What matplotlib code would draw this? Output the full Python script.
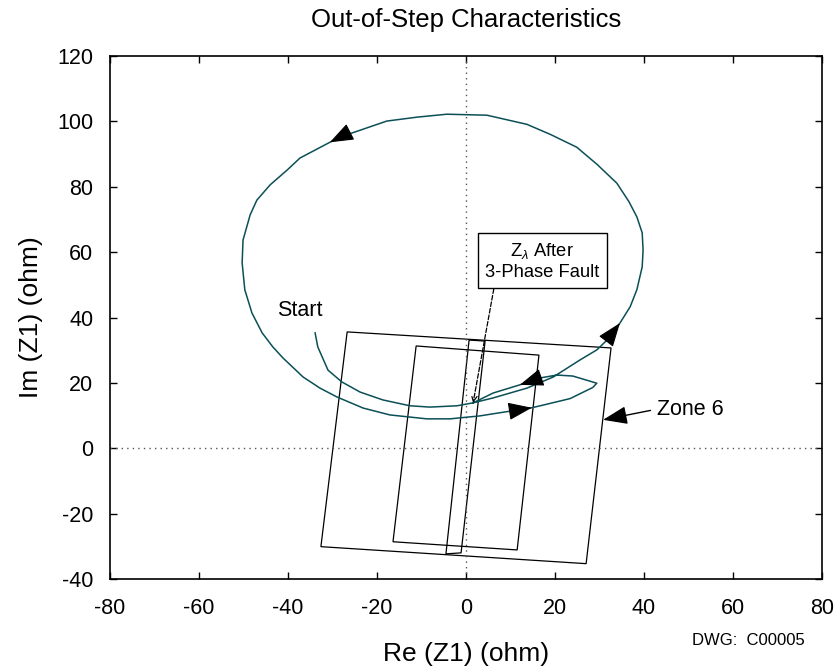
import numpy as np
from matplotlib import pyplot as plt

plt.rcParams['font.family'] = ['Liberation Sans', 'DejaVu Sans']
plt.rcParams['mathtext.fontset'] = 'custom'
plt.rcParams['mathtext.rm'] = 'Liberation Sans'
plt.rcParams['mathtext.it'] = 'Liberation Sans:italic'
plt.rcParams['axes.unicode_minus'] = False

# impedance trajectory Z1 (ohm), start -> fault point -> big swing -> back
re_z1 = [-33.9, -33.3, -31.0, -27.9, -23.8, -18.7, -12.6, -8.1, -2.0, 1.6,
         6.1, 13.7, 19.6, 25.6, 29.4, 31.7, 34.6, 36.9, 38.4, 39.6, 39.8, 39.6,
         38.4, 36.6, 33.9, 29.5, 24.9, 19.0, 13.7, 4.7, -4.3, -11.0, -17.8,
         -28.3, -30.6, -37.3, -40.2, -44.0, -47.0, -48.5, -50.1, -50.3, -49.7,
         -48.1, -45.8, -43.4, -41.1, -36.6, -32.8, -29.0, -23.1, -17.1, -8.8,
         -3.6, 3.1, 11.5, 14.8, 17.3, 23.4, 28.5, 29.4, 24.0, 20.4, 16.6, 12.1,
         6.1, 1.6]
im_z1 = [35.3, 31.0, 23.9, 20.3, 17.2, 14.8, 13.0, 12.6, 13.0, 13.9,
         15.4, 18.4, 21.8, 27.0, 30.1, 33.1, 38.3, 43.3, 48.5, 55.5, 60.7, 65.9,
         70.8, 75.5, 81.1, 86.8, 92.1, 96.0, 99.1, 101.9, 102.2, 101.3, 100.1,
         95.2, 93.6, 88.8, 85.1, 80.6, 75.9, 71.4, 63.7, 56.7, 48.5,
         41.4, 35.3, 31.0, 27.6, 21.8, 18.4, 15.7, 12.3, 10.2, 9.0,
         9.0, 9.9, 11.7, 12.4, 13.2, 15.2, 18.6, 19.9, 22.1, 22.4, 21.5, 19.4,
         16.9, 13.9]
fault_idx = 9
arrow_idx = [16, 34, 56, 64]

# zone characteristics (corner points, ohm)
zone6_re = [-26.7, 32.6, 27.0, -32.6]
zone6_im = [35.6, 30.7, -35.3, -30.1]
zone5_re = [-11.2, 16.4, 11.5, -16.4]
zone5_im = [31.3, 28.5, -31.1, -28.6]
blind_re = [0.7, 4.3, -1.1, -4.5]
blind_im = [33.1, 32.8, -32.0, -32.3]

xticks = [-80, -60, -40, -20, 0, 20, 40, 60, 80]
yticks = [-40, -20, 0, 20, 40, 60, 80, 100, 120]

fig = plt.figure(figsize=(8.35, 6.67), dpi=100)
ax = fig.add_axes([0.1317, 0.1319, 0.8527, 0.7841])

ax.axhline(0, color='#555555', lw=1, ls=(0, (1, 3)))
ax.axvline(0, color='#555555', lw=1, ls=(0, (1, 3)))

for zr, zi in [(zone6_re, zone6_im), (zone5_re, zone5_im), (blind_re, blind_im)]:
    ax.fill(zr, zi, fill=False, edgecolor='black', lw=0.9)

ax.plot(re_z1, im_z1, color='#0b4f57', lw=1.1)

for k in arrow_idx:
    ax.annotate('', xy=(re_z1[k], im_z1[k]), xytext=(re_z1[k - 1], im_z1[k - 1]),
                arrowprops=dict(arrowstyle='-|>,head_length=0.75,head_width=0.28',
                                color='black', lw=0.8, mutation_scale=20,
                                shrinkA=0, shrinkB=0))

ax.annotate('Z$_\\mathit{\\lambda}$ After\n3-Phase Fault',
            xy=(re_z1[fault_idx], im_z1[fault_idx]), xytext=(17.1, 57.3),
            ha='center', va='center', fontsize=13.2, linespacing=1.25,
            bbox=dict(boxstyle='square,pad=0.4', fc='white', ec='black', lw=1),
            arrowprops=dict(arrowstyle='->,head_length=0.3,head_width=0.15',
                            ls='--', color='black', lw=0.9, relpos=(0.09, 0),
                            shrinkA=0, shrinkB=0))

ax.annotate('Zone 6', xy=(30.8, 8.7), xytext=(43.0, 12.0), ha='left', va='center',
            fontsize=15.5,
            arrowprops=dict(arrowstyle='-|>,head_length=0.75,head_width=0.28',
                            color='black', lw=1, mutation_scale=20, relpos=(0, 0.5),
                            shrinkA=3, shrinkB=0))

ax.text(-37.3, 42.3, 'Start', ha='center', va='center', fontsize=15.5)

ax.set_xlim(-80, 80)
ax.set_ylim(-40, 120)
ax.set_xticks(xticks)
ax.set_yticks(yticks)
ax.tick_params(direction='in', length=5, width=1, top=True, right=True,
               labelsize=15.5)
ax.tick_params(axis='x', pad=14)
ax.tick_params(axis='y', pad=12)
for s in ax.spines.values():
    s.set_linewidth(1.2)

ax.set_xlabel('Re (Z1) (ohm)', fontsize=19, labelpad=16)
ax.set_ylabel('Im (Z1) (ohm)', fontsize=19, labelpad=10)
ax.set_title('Out-of-Step Characteristics', fontsize=18.5, pad=21)
fig.text(0.964, 0.04, 'DWG:  C00005', ha='right', va='center', fontsize=12)

fig.savefig('out.png', dpi=100)
